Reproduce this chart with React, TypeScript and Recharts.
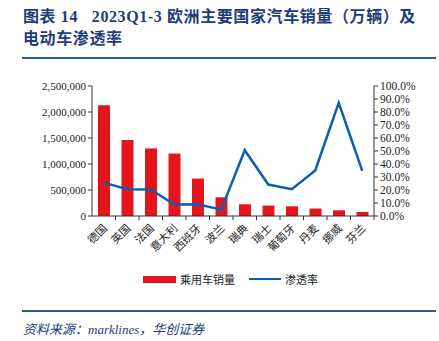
import { ComposedChart, Bar, Line, XAxis, YAxis } from 'recharts'

const countries = ['德国', '英国', '法国', '意大利', '西班牙', '波兰', '瑞典', '瑞士', '葡萄牙', '丹麦', '挪威', '芬兰']
const sales = [2130000, 1460000, 1300000, 1200000, 720000, 360000, 225000, 200000, 187000, 143000, 110000, 77000]
const penetration = [25.7, 20.6, 20.4, 8.8, 9.0, 4.9, 50.6, 24.2, 20.6, 35.0, 87.1, 34.7]
const salesTicks = [0, 500000, 1000000, 1500000, 2000000, 2500000]
const rateTicks = [0, 10, 20, 30, 40, 50, 60, 70, 80, 90, 100]

const FONT = '"Liberation Serif", "Noto Sans CJK SC", serif'
const NAVY = '#1f3d7a'
const RED = '#e3141b'
const BLUE = '#0a5fb4'

const data = countries.map((c, i) => ({ name: c, sales: sales[i], rate: penetration[i] }))

function CountryTick(props: any) {
  const { x, y, payload } = props
  const off = payload.offset ?? 11.75
  return (
    <g>
      <line x1={x + off} y1={y - 8} x2={x + off} y2={y - 4} stroke="#333" strokeWidth={1} />
      <text
        x={x + 4}
        y={y + 5}
        textAnchor="end"
        fontSize={11}
        fontFamily={FONT}
        fill="#222"
        transform={`rotate(-45, ${x + 4}, ${y + 5})`}
      >
        {payload.value}
      </text>
    </g>
  )
}

export default function App() {
  return (
    <div style={{ position: 'absolute', left: 0, top: 0, width: 439, height: 341, background: '#fff' }}>
      <div
        style={{
          position: 'absolute',
          left: 23,
          top: 6,
          width: 416,
          fontFamily: FONT,
          fontWeight: 'bold',
          fontSize: 16,
          lineHeight: '22px',
          letterSpacing: 0.6,
          color: NAVY,
          whiteSpace: 'pre',
        }}
      >
        {'图表 14   2023Q1-3 欧洲主要国家汽车销量（万辆）及\n电动车渗透率'}
      </div>
      <div style={{ position: 'absolute', left: 22, top: 57, width: 414, height: 2, background: '#2d5a96' }} />

      <div style={{ position: 'absolute', left: 0, top: 0 }}>
        <ComposedChart width={439} height={341} data={data} margin={{ top: 86, right: 15, bottom: 85, left: 32 }}>
          <XAxis
            dataKey="name"
            interval={0}
            height={40}
            tick={<CountryTick />}
            tickLine={false}
            axisLine={{ stroke: '#333' }}
          />
          <YAxis
            yAxisId="left"
            width={60}
            domain={[0, 2500000]}
            ticks={salesTicks}
            interval={0}
            tickFormatter={(v: number) => v.toLocaleString('en-US')}
            tick={{ fontSize: 11, fontFamily: FONT, fill: '#222' }}
            axisLine={{ stroke: '#333' }}
            tickLine={{ stroke: '#333' }}
            tickSize={4}
          />
          <YAxis
            yAxisId="right"
            orientation="right"
            width={50}
            domain={[0, 100]}
            ticks={rateTicks}
            interval={0}
            tickFormatter={(v: number) => v.toFixed(1) + '%'}
            tick={{ fontSize: 11.5, fontFamily: FONT, fill: '#222' }}
            axisLine={{ stroke: '#333' }}
            tickLine={{ stroke: '#333' }}
            tickSize={4}
          />
          <Bar yAxisId="left" dataKey="sales" fill={RED} barSize={12} isAnimationActive={false} />
          <Line yAxisId="right" dataKey="rate" stroke={BLUE} strokeWidth={2.5} dot={false} isAnimationActive={false} />
        </ComposedChart>
      </div>

      <div
        style={{
          position: 'absolute',
          left: 143,
          top: 271,
          display: 'flex',
          alignItems: 'center',
          fontFamily: FONT,
          fontSize: 11,
          color: '#222',
        }}
      >
        <span style={{ display: 'inline-block', width: 33, height: 7, background: RED, marginRight: 4 }} />
        <span style={{ marginRight: 14 }}>乘用车销量</span>
        <span style={{ display: 'inline-block', width: 32, height: 2.5, background: BLUE, marginRight: 4 }} />
        <span>渗透率</span>
      </div>

      <div style={{ position: 'absolute', left: 22, top: 310, width: 414, height: 2, background: '#2d5a96' }} />
      <div
        style={{
          position: 'absolute',
          left: 23,
          top: 319,
          fontFamily: FONT,
          fontStyle: 'italic',
          fontSize: 13,
          color: NAVY,
        }}
      >
        资料来源：marklines，华创证券
      </div>
    </div>
  )
}
